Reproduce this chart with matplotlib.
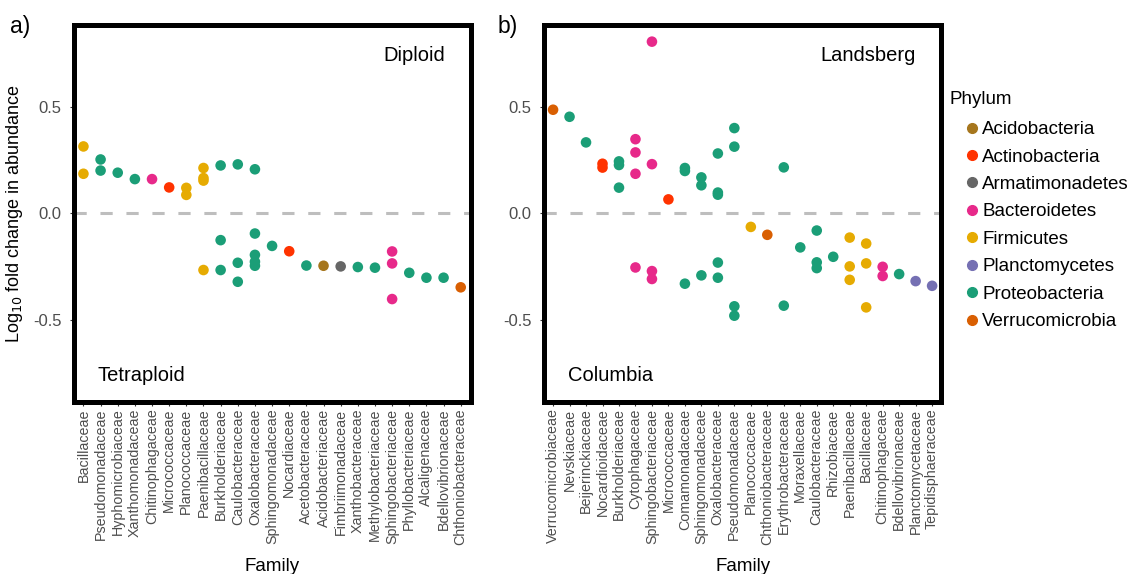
import matplotlib
matplotlib.use("Agg")
import matplotlib.pyplot as plt
from matplotlib.lines import Line2D

plt.rcParams['font.family'] = ['Liberation Sans', 'DejaVu Sans']

# phylum colours
phyla = ["Acidobacteria", "Actinobacteria", "Armatimonadetes", "Bacteroidetes",
         "Firmicutes", "Planctomycetes", "Proteobacteria", "Verrucomicrobia"]
colors = ["#A6761D", "#FF3300", "#666666", "#E7298A",
          "#E6AB02", "#7570B3", "#1B9E77", "#D95F02"]
pcol = dict(zip(phyla, colors))

# panel a) Diploid / Tetraploid
fam_a = ["Bacillaceae", "Pseudomonadaceae", "Hyphomicrobiaceae", "Xanthomonadaceae",
         "Chitinophagaceae", "Micrococcaceae", "Planococcaceae", "Paenibacillaceae",
         "Burkholderiaceae", "Caulobacteraceae", "Oxalobacteraceae", "Sphingomonadaceae",
         "Nocardiaceae", "Acetobacteraceae", "Acidobacteriaceae", "Fimbriimonadaceae",
         "Xanthobacteraceae", "Methylobacteriaceae", "Sphingobacteriaceae",
         "Phyllobacteriaceae", "Alcaligenaceae", "Bdellovibrionaceae", "Chthoniobacteraceae"]
phy_a = ["Firmicutes", "Proteobacteria", "Proteobacteria", "Proteobacteria",
         "Bacteroidetes", "Actinobacteria", "Firmicutes", "Firmicutes",
         "Proteobacteria", "Proteobacteria", "Proteobacteria", "Proteobacteria",
         "Actinobacteria", "Proteobacteria", "Acidobacteria", "Armatimonadetes",
         "Proteobacteria", "Proteobacteria", "Bacteroidetes",
         "Proteobacteria", "Proteobacteria", "Proteobacteria", "Verrucomicrobia"]
val_a = [[0.313, 0.185], [0.252, 0.200], [0.190], [0.160],
         [0.160], [0.121], [0.119, 0.086], [0.212, 0.165, 0.153, -0.266],
         [0.224, -0.126, -0.266], [0.229, -0.232, -0.321],
         [0.206, -0.095, -0.195, -0.227, -0.246], [-0.153],
         [-0.178], [-0.245], [-0.246], [-0.249],
         [-0.252], [-0.255], [-0.179, -0.235, -0.402],
         [-0.279], [-0.302], [-0.302], [-0.347]]

# panel b) Landsberg / Columbia
fam_b = ["Verrucomicrobiaceae", "Nevskiaceae", "Beijerinckiaceae", "Nocardioidaceae",
         "Burkholderiaceae", "Cytophagaceae", "Sphingobacteriaceae", "Micrococcaceae",
         "Comamonadaceae", "Sphingomonadaceae", "Oxalobacteraceae", "Pseudomonadaceae",
         "Planococcaceae", "Chthoniobacteraceae", "Erythrobacteraceae", "Moraxellaceae",
         "Caulobacteraceae", "Rhizobiaceae", "Paenibacillaceae", "Bacillaceae",
         "Chitinophagaceae", "Bdellovibrionaceae", "Planctomycetaceae", "Tepidisphaeraceae"]
phy_b = ["Verrucomicrobia", "Proteobacteria", "Proteobacteria", "Actinobacteria",
         "Proteobacteria", "Bacteroidetes", "Bacteroidetes", "Actinobacteria",
         "Proteobacteria", "Proteobacteria", "Proteobacteria", "Proteobacteria",
         "Firmicutes", "Verrucomicrobia", "Proteobacteria", "Proteobacteria",
         "Proteobacteria", "Proteobacteria", "Firmicutes", "Firmicutes",
         "Bacteroidetes", "Proteobacteria", "Planctomycetes", "Planctomycetes"]
val_b = [[0.485], [0.452], [0.332], [0.232, 0.214],
         [0.243, 0.226, 0.120], [0.347, 0.285, 0.185, -0.254], [0.804, 0.230, -0.271, -0.308], [0.065],
         [0.212, 0.198, -0.330], [0.168, 0.131, -0.291], [0.280, 0.097, 0.087, -0.231, -0.302],
         [0.399, 0.312, -0.436, -0.480],
         [-0.064], [-0.101], [0.215, -0.433], [-0.160],
         [-0.081, -0.230, -0.257], [-0.204], [-0.114, -0.249, -0.312], [-0.142, -0.235, -0.441],
         [-0.251, -0.294], [-0.285], [-0.318], [-0.340]]

W, H = 1132, 574
fig = plt.figure(figsize=(W / 100, H / 100), dpi=100)


def panel(rect, fams, phys, vals, top_txt, bot_txt, letter, letter_x):
    l, t, r, b = rect
    ax = fig.add_axes([l / W, 1 - b / H, (r - l) / W, (b - t) / H])
    ax.axhline(0, color="#BEBEBE", lw=2.2, dashes=(4, 4.5), zorder=1)
    for i, (ph, vs) in enumerate(zip(phys, vals)):
        ax.scatter([i] * len(vs), vs, s=58, color=pcol[ph], edgecolors="none", zorder=3)
    n = len(fams)
    ax.set_xlim(-0.55, n - 1 + 0.57)
    ax.set_ylim(-0.882, 0.882)
    ax.set_xticks(range(n))
    ax.set_xticklabels(fams, rotation=90, fontsize=10.3, color="#4D4D4D")
    ax.set_yticks([-0.5, 0.0, 0.5])
    ax.set_yticklabels(["-0.5", "0.0", "0.5"], fontsize=12, color="#4D4D4D")
    ax.tick_params(axis="x", length=3, width=0.8, color="#333333", pad=2)
    ax.tick_params(axis="y", length=3, width=0.8, color="#333333", pad=6)
    for sp in ax.spines.values():
        sp.set_linewidth(3.6)
        sp.set_color("black")
    ax.set_xlabel("Family", fontsize=13.5, labelpad=9)
    ax.text(0.935, 0.92, top_txt, transform=ax.transAxes, ha="right", va="center", fontsize=14.5)
    ax.text(0.06, 0.07, bot_txt, transform=ax.transAxes, ha="left", va="center", fontsize=14.5)
    fig.text(letter_x / W, 1 - 26 / H, letter, fontsize=16.5, va="center")
    return ax


ax1 = panel((74, 25, 470.5, 401.5), fam_a, phy_a, val_a, "Diploid", "Tetraploid", "a)", 10)
ax1.set_ylabel("Log$_{10}$ fold change in abundance", fontsize=13, labelpad=6)
ax2 = panel((544, 25, 941.5, 401.5), fam_b, phy_b, val_b, "Landsberg", "Columbia", "b)", 498)

handles = [Line2D([], [], marker="o", ls="none", color=c, markersize=7) for c in colors]
leg = fig.legend(handles, phyla, loc="upper left", bbox_to_anchor=(942 / W, 1 - 84 / H),
                 frameon=False, title="Phylum", fontsize=13.5, title_fontsize=13.5,
                 handlelength=2.43, handletextpad=-0.68, labelspacing=0.55, borderaxespad=0)
leg._legend_box.align = "left"
leg._legend_box.sep = 9

fig.savefig("out.png", dpi=100)
